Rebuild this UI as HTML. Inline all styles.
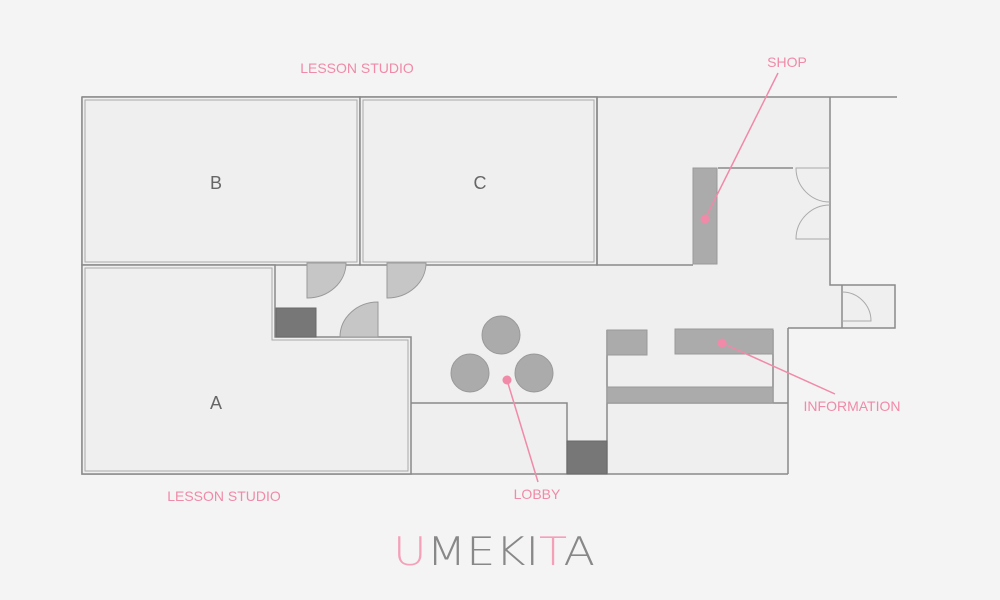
<!DOCTYPE html>
<html><head><meta charset="utf-8"><style>
html,body{margin:0;padding:0;background:#f4f4f4;}
svg{display:block;}
text{font-family:"Liberation Sans",sans-serif;}
</style></head><body>
<svg width="1000" height="600" viewBox="0 0 1000 600" xmlns="http://www.w3.org/2000/svg">
<rect width="1000" height="600" fill="#f4f4f4"/>
<g fill="#efefef" stroke="#8a8a8a" stroke-width="1.5">
  <path d="M82,97 H830 V285 H895 V328 H788 V474 H82 Z" stroke="none"/>
  <path d="M82,97 H897" fill="none"/>
  <path d="M82,97 V474 H788" fill="none"/>
  <rect x="82" y="97" width="278" height="168"/>
  <rect x="85" y="100" width="272" height="162" fill="none" stroke="#aaa" stroke-width="1"/>
  <rect x="360" y="97" width="237" height="168"/>
  <rect x="363" y="100" width="231" height="162" fill="none" stroke="#aaa" stroke-width="1"/>
  <path d="M82,265 H275 V337 H411 V474 H82 Z"/>
  <path d="M85,268 H272 V340 H408 V471 H85 Z" fill="none" stroke="#aaa" stroke-width="1"/>
  <path d="M597,97 V265 H693" fill="none"/>
  <path d="M830,97 V285 H895 V328 H788" fill="none"/>
  <path d="M718,168 H793" fill="none"/>
  <path d="M842,285 V328" fill="none"/>
  <path d="M411,403 H567 V474" fill="none"/>
  <path d="M607,330 V474" fill="none"/>
  <path d="M788,328 V474" fill="none"/>
  <path d="M773,330 V403" fill="none"/>
  <path d="M607,403 H788" fill="none"/>
</g>
<g fill="#ababab" stroke="#999" stroke-width="1">
  <rect x="693" y="168" width="24" height="96"/>
  <rect x="607" y="330" width="40" height="25"/>
  <rect x="675" y="329" width="98" height="25"/>
  <rect x="607" y="387" width="166" height="16"/>
  <circle cx="501" cy="335" r="19"/>
  <circle cx="470" cy="373" r="19"/>
  <circle cx="534" cy="373" r="19"/>
</g>
<g fill="#777" stroke="#6a6a6a">
  <rect x="276" y="308" width="40" height="29"/>
  <rect x="567" y="441" width="40" height="33"/>
</g>
<g fill="#c6c6c6" stroke="#999" stroke-width="1">
  <path d="M307,263 H346 A39,35 0 0 1 307,298 Z"/>
  <path d="M387,263 H426 A39,35 0 0 1 387,298 Z"/>
  <path d="M378,302 V337 H340 A38,35 0 0 1 378,302 Z"/>
</g>
<g fill="none" stroke="#aaa" stroke-width="1">
  <path d="M830,168 H796 A34,34 0 0 0 830,202"/>
  <path d="M830,239 H796 A34,34 0 0 1 830,205"/>
  <path d="M842,321 H871 A29,29 0 0 0 842,292"/>
</g>
<g stroke="#f08aa8" stroke-width="1.5" fill="#f08aa8">
  <line x1="705" y1="219" x2="778" y2="73"/>
  <circle cx="705" cy="219" r="4.5" stroke="none"/>
  <line x1="722" y1="343" x2="835" y2="394"/>
  <circle cx="722" cy="343" r="4.5" stroke="none"/>
  <line x1="507" y1="380" x2="538" y2="482"/>
  <circle cx="507" cy="380" r="4.5" stroke="none"/>
</g>
<g fill="#f08aa8" font-size="14" text-anchor="middle">
  <text x="357" y="73">LESSON STUDIO</text>
  <text x="787" y="67">SHOP</text>
  <text x="852" y="411">INFORMATION</text>
  <text x="537" y="499">LOBBY</text>
  <text x="224" y="501">LESSON STUDIO</text>
</g>
<g fill="#666" font-size="18" text-anchor="middle">
  <text x="216" y="189">B</text>
  <text x="480" y="189">C</text>
  <text x="216" y="409">A</text>
</g>
<text x="393" y="565" font-size="39" textLength="202" lengthAdjust="spacingAndGlyphs" fill="#888" style="font-family:'DejaVu Sans',sans-serif;font-weight:200"><tspan fill="#f4a0b8">U</tspan>MEKI<tspan fill="#f4a0b8">T</tspan>A</text>
</svg>
</body></html>
